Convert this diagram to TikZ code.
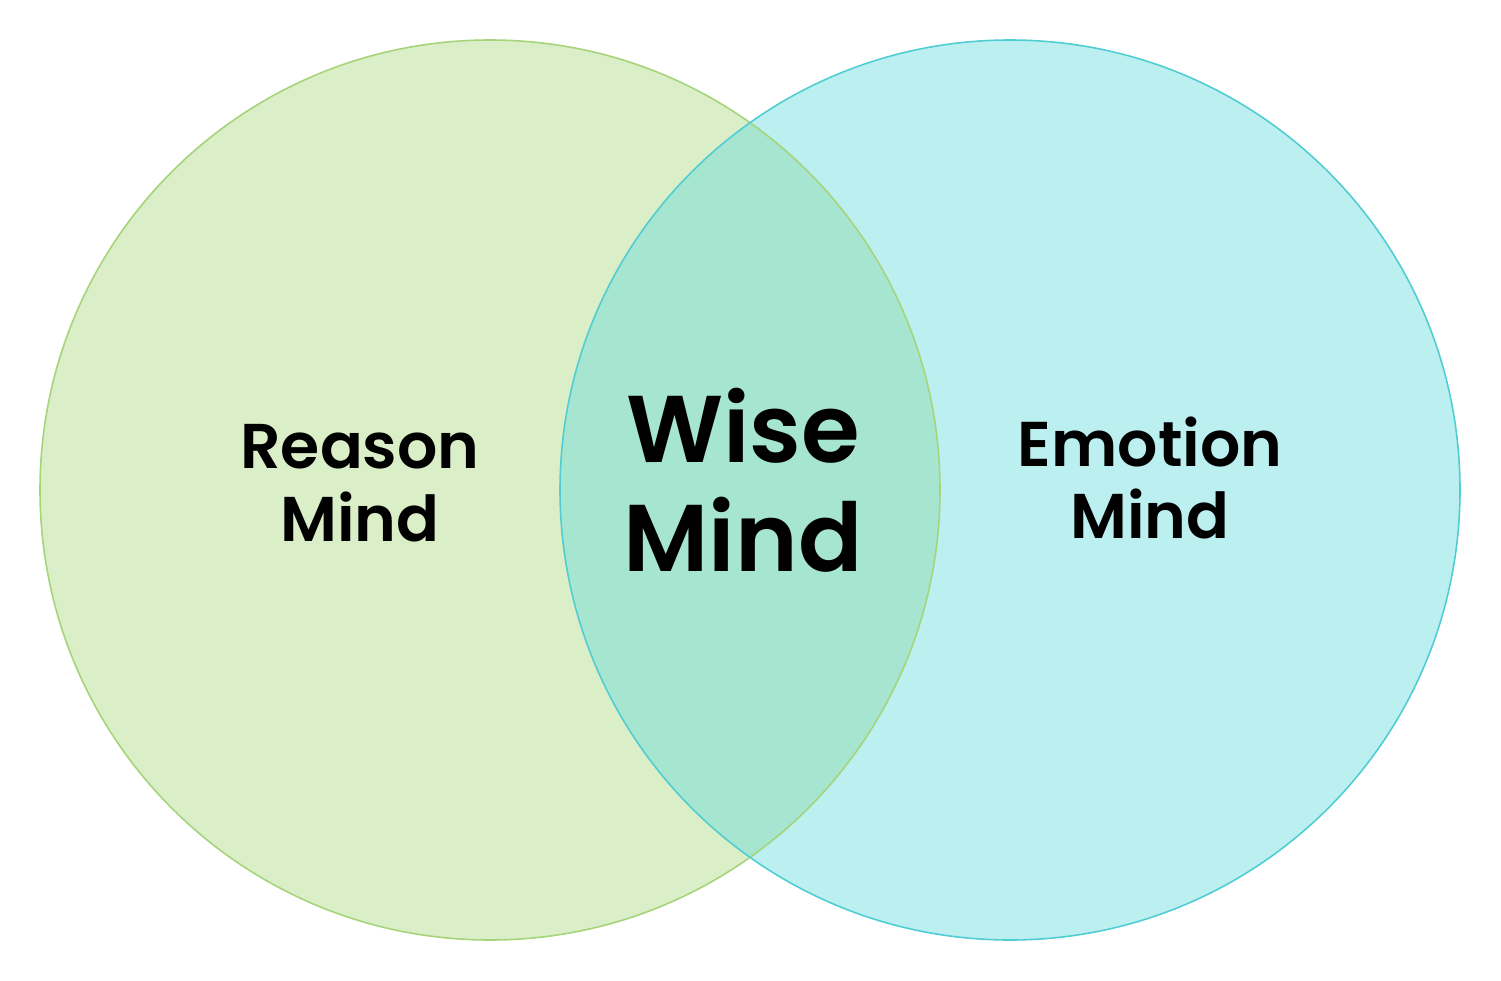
\documentclass[tikz,border=0pt]{standalone}
\usepackage{fontspec}
\setmainfont{Poppins}[BoldFont={Poppins SemiBold}]
\usepackage{tikz}
\usepackage{xcolor}
\definecolor{reasonfill}{HTML}{DAEFC8}
\definecolor{reasonline}{HTML}{A5D47A}
\definecolor{emotionfill}{HTML}{BBEFF0}
\definecolor{emotionline}{HTML}{50CDD3}
\definecolor{wisefill}{HTML}{A6E6D0}
\tikzset{
    mind-circle/.style = {circle, minimum size=9cm, inner sep=0pt},
    mind-line/.style = {line width=0.45pt},
    mind-label/.style = {align=center, font=\bfseries\fontsize{18}{20.7}\selectfont, text=black},
    wise-label/.style = {align=center, font=\bfseries\fontsize{27}{31}\selectfont, text=black},
}
\begin{document}
\begin{tikzpicture}
\useasboundingbox (0,0) rectangle (15.01,9.80);
\node [mind-circle, fill=reasonfill] (reason) at (4.90,4.90) {};
\node [mind-circle, fill=emotionfill] (emotion) at (10.10,4.90) {};
\begin{scope}
    \clip (reason.center) circle (4.5cm);
    \fill [wisefill] (emotion.center) circle (4.5cm);
\end{scope}
\draw [reasonline, mind-line] (reason.center) circle (4.5cm);
\draw [emotionline, mind-line] (emotion.center) circle (4.5cm);
\node [mind-label] (reason-text) at (3.60,4.97) {Reason\\Mind};
\node [mind-label] (emotion-text) at (11.50,5.02) {Emotion\\Mind};
\node [wise-label] (wise-text) at (7.43,5.00) {Wise\\Mind};
\end{tikzpicture}
\end{document}
